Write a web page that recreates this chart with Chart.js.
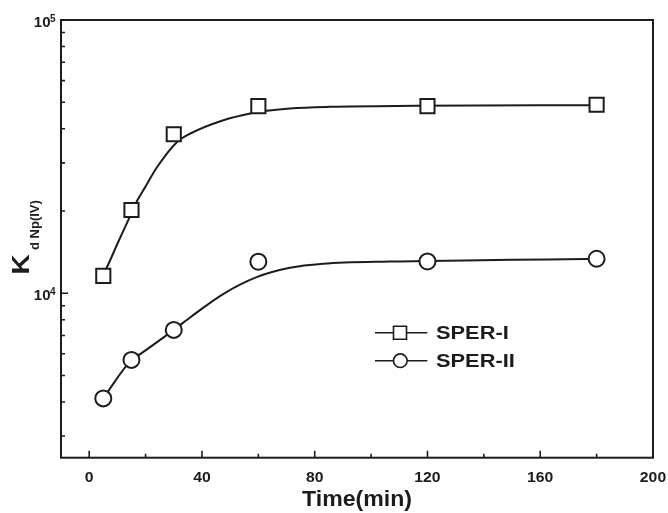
<!DOCTYPE html>
<html><head><meta charset="utf-8">
<script src="https://cdn.jsdelivr.net/npm/chart.js"></script>
<style>html,body{margin:0;padding:0;background:#fff}#wrap{width:668px;height:513px}</style>
</head><body><div id="wrap"><canvas id="c" width="668" height="513"></canvas></div>
<script>
// ---- data ----
const timeMin = [5, 15, 30, 60, 120, 180];
const sper1 = [11580, 20160, 38190, 48380, 48380, 48970];
const sper2 = [4121, 5700, 7340, 13040, 13070, 13370];
// fitted curves
const fit1X = [5, 6, 10, 14.1, 17.1, 20, 24.1, 31.2, 35.9, 47.6, 57.1, 63, 71.2, 85.3, 116, 180];
const fit1Y = [11900, 12300, 15170, 18740, 21880, 24580, 28970, 35790, 38420, 42980, 45490, 46500, 47460, 48100, 48500, 48780];
const fit2X = [5, 15, 18.2, 30, 35.9, 47.65, 59.4, 71.2, 83, 106.5, 120, 150, 176, 180];
const fit2Y = [4130, 5700, 5995, 7340, 8166, 9950, 11450, 12390, 12820, 13070, 13120, 13260, 13330, 13350];
const seriesNames = ['SPER-I', 'SPER-II'];
const xTicks = [0, 40, 80, 120, 160, 200];
const xMinorTicks = [20, 60, 100, 140, 180];
const yDecades = [10000, 100000];
const yDecadeExp = ['4', '5'];
const yMinorTicks = [3000, 4000, 5000, 6000, 7000, 8000, 9000, 20000, 30000, 40000, 50000, 60000, 70000, 80000, 90000];
const xTitle = 'Time(min)';
const yTitleMain = 'K';
const yTitleSub = 'd Np(IV)';

const INK = '#1c1c1c';
const FONT = '"Liberation Sans", Arial, sans-serif';

const pts = (xs, ys) => xs.map((x, i) => ({x: x, y: ys[i]}));

const decorPlugin = {
  id: 'decor',
  afterDraw(chart) {
    const ctx = chart.ctx;
    const a = chart.chartArea;
    const xs = chart.scales.x, ys = chart.scales.y;
    ctx.save();
    ctx.strokeStyle = INK;
    ctx.fillStyle = INK;
    // frame
    ctx.lineWidth = 2;
    ctx.strokeRect(a.left, a.top, a.right - a.left, a.bottom - a.top);
    // inward ticks
    ctx.lineWidth = 1.6;
    ctx.beginPath();
    xTicks.forEach(v => { const p = xs.getPixelForValue(v); ctx.moveTo(p, a.bottom); ctx.lineTo(p, a.bottom - 7); });
    xMinorTicks.forEach(v => { const p = xs.getPixelForValue(v); ctx.moveTo(p, a.bottom); ctx.lineTo(p, a.bottom - 4); });
    yDecades.forEach(v => { const p = ys.getPixelForValue(v); ctx.moveTo(a.left, p); ctx.lineTo(a.left + 7, p); });
    yMinorTicks.forEach(v => { const p = ys.getPixelForValue(v); ctx.moveTo(a.left, p); ctx.lineTo(a.left + 4, p); });
    ctx.stroke();
    // x tick labels
    ctx.textAlign = 'center';
    ctx.textBaseline = 'alphabetic';
    ctx.font = 'bold 15px ' + FONT;
    xTicks.forEach(v => {
      ctx.save();
      ctx.translate(xs.getPixelForValue(v), a.bottom + 24);
      ctx.scale(1.05, 1);
      ctx.fillText(String(v), 0, 0);
      ctx.restore();
    });
    // x title
    ctx.save();
    ctx.translate((a.left + a.right) / 2, a.bottom + 47.8);
    ctx.scale(1.05, 1);
    ctx.font = 'bold 22px ' + FONT;
    ctx.fillText(xTitle, 0, 0);
    ctx.restore();
    // y decade labels 10^n
    yDecades.forEach((v, i) => {
      const p = ys.getPixelForValue(v);
      ctx.textAlign = 'right';
      ctx.font = 'bold 15px ' + FONT;
      ctx.fillText('10', a.left - 10.5, p + 7);
      ctx.textAlign = 'left';
      ctx.font = 'bold 10px ' + FONT;
      ctx.fillText(yDecadeExp[i], a.left - 11, p + 2);
    });
    // y title with subscript (rotated)
    ctx.save();
    ctx.textAlign = 'left';
    ctx.translate(28.5, 274.5);
    ctx.rotate(-Math.PI / 2);
    ctx.save();
    ctx.scale(1.22, 1);
    ctx.font = 'bold 23px ' + FONT;
    ctx.fillText(yTitleMain, 0, 0);
    ctx.restore();
    ctx.font = 'bold 13px ' + FONT;
    ctx.fillText(yTitleSub, 24.5, 10);
    ctx.restore();
    // legend
    const rows = [332.7, 360.7];
    ctx.textAlign = 'left';
    rows.forEach((ry, i) => {
      ctx.lineWidth = 1.6;
      ctx.beginPath();
      ctx.moveTo(375, ry); ctx.lineTo(427.3, ry);
      ctx.stroke();
      ctx.fillStyle = '#fff';
      ctx.beginPath();
      if (i === 0) { ctx.rect(400 - 6.5, ry - 6.5, 13, 13); }
      else { ctx.arc(400.3, ry, 6.8, 0, Math.PI * 2); }
      ctx.fill();
      ctx.lineWidth = 1.6;
      ctx.stroke();
      ctx.fillStyle = INK;
      ctx.save();
      ctx.translate(436, ry + 6.2);
      ctx.scale(1.18, 1);
      ctx.font = 'bold 18.5px ' + FONT;
      ctx.fillText(seriesNames[i], 0, 0);
      ctx.restore();
    });
    ctx.restore();
  }
};

new Chart(document.getElementById('c'), {
  type: 'line',
  data: {
    datasets: [
      { label: seriesNames[0], data: pts(timeMin, sper1), showLine: false, pointStyle: 'rect', pointRadius: 10,
        pointBorderWidth: 2, pointBorderColor: INK, pointBackgroundColor: '#fff' },
      { label: seriesNames[1], data: pts(timeMin, sper2), showLine: false, pointStyle: 'circle', pointRadius: 8,
        pointBorderWidth: 2, pointBorderColor: INK, pointBackgroundColor: '#fff' },
      { label: seriesNames[0] + ' fit', data: pts(fit1X, fit1Y), borderColor: INK, borderWidth: 2, pointRadius: 0,
        cubicInterpolationMode: 'monotone', fill: false },
      { label: seriesNames[1] + ' fit', data: pts(fit2X, fit2Y), borderColor: INK, borderWidth: 2, pointRadius: 0,
        cubicInterpolationMode: 'monotone', fill: false }
    ]
  },
  options: {
    responsive: false,
    animation: false,
    devicePixelRatio: 1,
    layout: { padding: { left: 61, right: 15, top: 20, bottom: 55.3 } },
    plugins: { legend: { display: false }, tooltip: { enabled: false } },
    scales: {
      x: { type: 'linear', min: -10, max: 200, display: false },
      y: { type: 'logarithmic', min: 2500, max: 100000, display: false }
    }
  },
  plugins: [decorPlugin]
});
</script>
</body></html>
